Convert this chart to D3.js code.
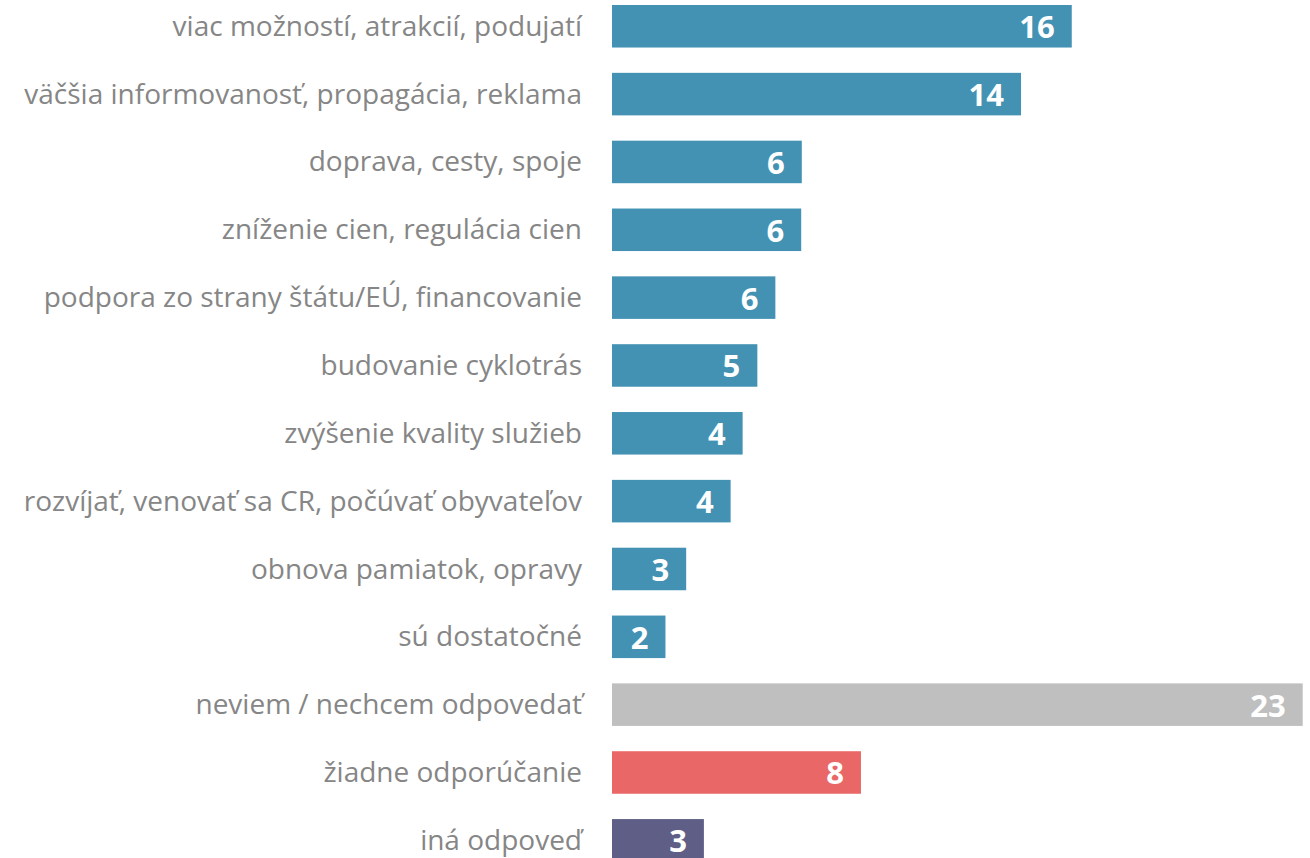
<!DOCTYPE html>
<html>
<head>
<meta charset="utf-8">
<script src="https://cdn.jsdelivr.net/npm/d3@7"></script>
<style>
  body { margin: 0; background: #fff; }
  svg { display: block; }
</style>
</head>
<body>
<svg></svg>
<script>
// categories, top to bottom
var categories = [
  "viac možností, atrakcií, podujatí",
  "väčšia informovanosť, propagácia, reklama",
  "doprava, cesty, spoje",
  "zníženie cien, regulácia cien",
  "podpora zo strany štátu/EÚ, financovanie",
  "budovanie cyklotrás",
  "zvýšenie kvality služieb",
  "rozvíjať, venovať sa CR, počúvať obyvateľov",
  "obnova pamiatok, opravy",
  "sú dostatočné",
  "neviem / nechcem odpovedať",
  "žiadne odporúčanie",
  "iná odpoveď"
];
// bar lengths
var values = [15.31, 13.62, 6.32, 6.30, 5.44, 4.84, 4.35, 3.95, 2.47, 1.78, 23, 8.29, 3.06];
// numbers printed on the bars
var valueLabels = ["16", "14", "6", "6", "6", "5", "4", "4", "3", "2", "23", "8", "3"];
// group of each bar (for colour)
var groups = ["a", "a", "a", "a", "a", "a", "a", "a", "a", "a", "dk", "none", "other"];

var width = 1310, height = 858;
var colors = { a: "#4392b4", dk: "#bfbfbf", none: "#e96766", other: "#5f5e86" };

var svg = d3.select("svg")
    .attr("width", width)
    .attr("height", height);

var x = d3.scaleLinear()
    .domain([0, 23])
    .range([612, 1302.7]);

var y = d3.scaleBand()
    .domain(categories)
    .range([5, 861.6])
    .paddingInner(0.373)
    .paddingOuter(0);

var data = categories.map(function(c, i) {
    return { cat: c, v: values[i], label: valueLabels[i], g: groups[i] };
});

// bars
svg.selectAll("rect.bar")
    .data(data)
    .enter().append("rect")
    .attr("class", "bar")
    .attr("x", x(0))
    .attr("y", function(d) { return y(d.cat); })
    .attr("width", function(d) { return x(d.v) - x(0); })
    .attr("height", y.bandwidth())
    .attr("fill", function(d) { return colors[d.g]; });

// category labels
var yAxis = d3.axisLeft(y).tickSize(0).tickPadding(30);
var ax = svg.append("g")
    .attr("transform", "translate(" + x(0) + ",0)")
    .call(yAxis);
ax.select(".domain").remove();
ax.selectAll(".tick text")
    .attr("fill", "#868686")
    .attr("dy", "0.34em")
    .style("font-family", "'Open Sans', sans-serif")
    .style("font-size", "28px");

// value labels inside bars
svg.selectAll("text.val")
    .data(data)
    .enter().append("text")
    .attr("class", "val")
    .attr("x", function(d) { return x(d.v) - 17; })
    .attr("y", function(d) { return y(d.cat) + y.bandwidth() / 2 + 12; })
    .attr("text-anchor", "end")
    .attr("fill", "#fff")
    .style("font-family", "'Open Sans', sans-serif")
    .style("font-weight", "bold")
    .style("font-size", "31px")
    .text(function(d) { return d.label; });
</script>
</body>
</html>
